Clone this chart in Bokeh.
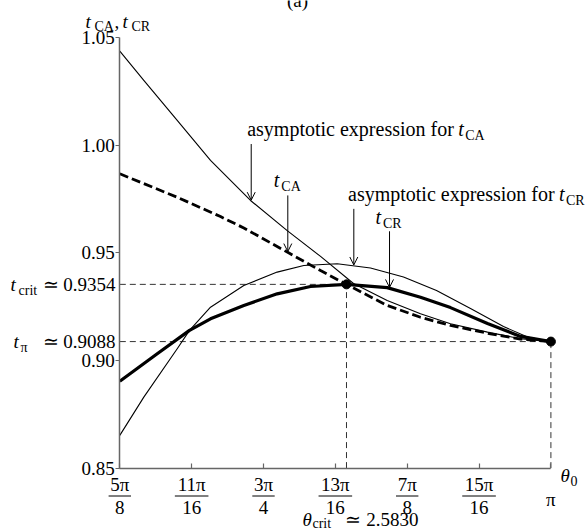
import numpy as np
from bokeh.plotting import figure
from bokeh.models import Range1d, LinearAxis, FixedTicker, Arrow, OpenHead, PrintfTickFormatter, CustomJSTickFormatter
from bokeh.core.properties import value
from bokeh.embed import file_html
from bokeh.resources import INLINE

# ---------------- data ----------------
theta_ca_asym = [1.9635, 2.0291, 2.1204, 2.2114, 2.3207, 2.4210, 2.5121, 2.6021,
                 2.6942, 2.7852, 2.8672, 2.9683, 3.0585, 3.1416]
t_ca_asym = [1.0438, 1.0302, 1.0116, 0.9930, 0.9744, 0.9604, 0.9484, 0.9358,
             0.9279, 0.9217, 0.9171, 0.9132, 0.9101, 0.9088]

theta_ca = [1.9635, 2.1204, 2.2387, 2.3024, 2.4210, 2.5121, 2.5830, 2.6942,
            2.7852, 2.8672, 2.9765, 3.0585, 3.1416]
t_ca = [0.9868, 0.9759, 0.9669, 0.9616, 0.9504, 0.9418, 0.9354, 0.9256,
        0.9201, 0.9163, 0.9124, 0.9100, 0.9088]

theta_cr = [1.9635, 2.0611, 2.1540, 2.2114, 2.3024, 2.3936, 2.4846, 2.5830,
            2.6942, 2.7852, 2.8672, 2.9683, 3.0585, 3.1416]
t_cr = [0.8904, 0.9026, 0.9140, 0.9194, 0.9256, 0.9310, 0.9344, 0.9354,
        0.9339, 0.9294, 0.9246, 0.9172, 0.9112, 0.9088]

theta_cr_asym = [1.9635, 2.0291, 2.1204, 2.1540, 2.2114, 2.3024, 2.3936, 2.4663,
                 2.5576, 2.6486, 2.7388, 2.8290, 2.9219, 3.0121, 3.0777, 3.1416]
t_cr_asym = [0.8652, 0.8830, 0.9055, 0.9140, 0.9248, 0.9349, 0.9411, 0.9442,
             0.9450, 0.9430, 0.9388, 0.9325, 0.9242, 0.9158, 0.9109, 0.9088]

theta_crit = 2.5830
t_crit = 0.9354
t_pi = 0.9088

x_ticks = [1.963495, 2.159845, 2.356194, 2.552544, 2.748894, 2.945243, 3.141593]
x_tick_num = ["5π", "11π", "3π", "13π", "7π", "15π", "π"]
x_tick_den = ["8", "16", "4", "16", "8", "16", ""]
y_ticks = [0.85, 0.90, 0.95, 1.00, 1.05]
x_lo, x_hi = x_ticks[0], x_ticks[-1]
y_lo, y_hi = y_ticks[0], y_ticks[-1]

# ---------------- layout calibration ----------------
W, H = 585, 531
AXL, AXR = 119.3, 550.4      # canvas px of x_lo, x_hi
AYT, AYB = 37.3, 467.6       # canvas px of y_hi, y_lo
sx = (AXR - AXL) / (x_hi - x_lo)
sy = (AYB - AYT) / (y_hi - y_lo)
x_start = x_lo - AXL / sx
x_end = x_start + W / sx
y_end = y_hi + AYT / sy
y_start = y_end - H / sy

def X(cx):
    return x_start + cx / sx

def Y(cy):
    return y_end - cy / sy

def cx_of(th):
    return (th - x_start) * sx

def cy_of(t):
    return (y_end - t) * sy

FONT = value("Liberation Serif")
MAIN = 19
ANN = 20
SUB = 14

p = figure(width=W, height=H, x_range=Range1d(x_start, x_end), y_range=Range1d(y_start, y_end),
           x_axis_type=None, y_axis_type=None, output_backend="svg", toolbar_location=None,
           min_border=0)
p.outline_line_color = None
p.background_fill_color = "white"
p.border_fill_color = "white"

AX_COLOR = "#666666"
xaxis = LinearAxis(fixed_location=y_lo, bounds=(x_lo, x_hi), ticker=FixedTicker(ticks=x_ticks),
                   formatter=CustomJSTickFormatter(code="return ''"))
xaxis.major_tick_in = 5
xaxis.major_tick_out = 0
xaxis.minor_tick_line_color = None
xaxis.axis_line_color = AX_COLOR
xaxis.axis_line_width = 1.5
xaxis.major_tick_line_color = AX_COLOR
xaxis.major_tick_line_width = 1.2
p.add_layout(xaxis, "below")

yaxis = LinearAxis(fixed_location=x_lo, bounds=(y_lo, y_hi), ticker=FixedTicker(ticks=y_ticks),
                   formatter=PrintfTickFormatter(format="%.2f"))
yaxis.major_tick_in = 0
yaxis.major_tick_out = 4
yaxis.minor_tick_line_color = None
yaxis.axis_line_color = AX_COLOR
yaxis.axis_line_width = 1.5
yaxis.major_tick_line_color = AX_COLOR
yaxis.major_tick_line_width = 1.2
yaxis.major_label_standoff = 1
yaxis.major_label_text_font = "Liberation Serif"
yaxis.major_label_text_font_size = f"{MAIN}px"
yaxis.major_label_text_color = "black"
p.add_layout(yaxis, "left")


def txt(cx, cy, s, size=MAIN, italic=False, align="left", x=None, y=None):
    """cy is the vertical middle of the text line (canvas px)."""
    p.text(x=[X(cx) if x is None else x], y=[Y(cy) if y is None else y], text=[s],
           text_font=FONT, text_font_size=f"{size}px",
           text_font_style="italic" if italic else "normal",
           text_align=align, text_baseline="middle", text_color="black")

def mid(baseline, size):
    return baseline - 0.34 * size

# ---------------- reference dashed lines ----------------
REF = dict(line_color="#333333", line_width=1, line_dash="6 4")
p.line([x_lo, theta_crit], [t_crit, t_crit], **REF)
p.line([theta_crit, theta_crit], [y_lo, t_crit], **REF)
p.line([x_lo, x_hi], [t_pi, t_pi], **REF)
p.line([x_hi, x_hi], [y_lo, t_pi], **REF)

# ---------------- curves ----------------
p.line(theta_ca_asym, t_ca_asym, line_color="black", line_width=1.1, line_join="round")
p.line(theta_cr_asym, t_cr_asym, line_color="black", line_width=1.1, line_join="round")
p.line(theta_ca, t_ca, line_color="black", line_width=2.8, line_dash="9 4")
p.line(theta_cr, t_cr, line_color="black", line_width=3.2, line_join="round")
p.scatter([theta_crit, x_hi], [t_crit, t_pi], size=9, color="black")

# ---------------- arrows and their labels ----------------
ARROW_LEN = 57 / sy
arrow_specs = [
    (2.3226, theta_ca_asym, t_ca_asym),
    (2.4226, theta_ca, t_ca),
    (2.6030, theta_cr_asym, t_cr_asym),
    (2.7006, theta_cr, t_cr),
]
tails = []
for th, xs, ys in arrow_specs:
    tip = float(np.interp(th, xs, ys))
    tail = tip + ARROW_LEN
    p.add_layout(Arrow(end=OpenHead(size=8, line_width=1, line_color="black"),
                       x_start=th, y_start=tail, x_end=th, y_end=tip + 0.0004,
                       line_color="black", line_width=1))
    tails.append((cx_of(th), cy_of(tail)))

def asym_label(left, base, sub):
    txt(left, mid(base, ANN), "asymptotic expression for", size=ANN)
    txt(left + 211, mid(base, ANN), "t", size=ANN, italic=True)
    txt(left + 218, mid(base + 4, SUB), sub, size=SUB)

def t_label(left, base, sub):
    txt(left, mid(base, ANN), "t", size=ANN, italic=True)
    txt(left + 7.5, mid(base + 4, SUB), sub, size=SUB)

ax, ay = tails[0]
asym_label(ax - 4, ay - 8, "CA")
ax, ay = tails[1]
t_label(ax - 14, ay - 8.5, "CA")
ax, ay = tails[2]
asym_label(ax - 5.8, ay - 8, "CR")
ax, ay = tails[3]
t_label(ax - 14, ay - 7.5, "CR")

# ---------------- y axis extra labels ----------------
cyc = cy_of(t_crit)
txt(AXL - 4.3, cyc, "≃ 0.9354", align="right")
txt(10, cyc, "t", italic=True)
txt(18, mid(cyc + 6.5 + 4, SUB), "crit", size=SUB)
cyp = cy_of(t_pi)
txt(AXL - 4.3, cyp, "≃ 0.9088", align="right")
txt(13, cyp, "t", italic=True)
txt(20, mid(cyp + 6.5 + 4, SUB), "π", size=SUB)

# y axis title
txt(85, mid(27, MAIN), "t", italic=True)
txt(94, mid(31, SUB), "CA", size=SUB)
txt(114, mid(27, MAIN), ",")
txt(122, mid(27, MAIN), "t", italic=True)
txt(131, mid(31, SUB), "CR", size=SUB)

# panel tag (cut by the top edge, as in the reference)
txt(297, mid(6, MAIN), "(a)", align="center")

# ---------------- x tick fraction labels ----------------
NUM_MID, BAR_Y, DEN_MID = 484, 495.5, 507
for v, num, den in zip(x_ticks, x_tick_num, x_tick_den):
    if den:
        txt(0, NUM_MID, num, align="center", x=v)
        hw = 5.6 * len(num) / sx
        p.segment(x0=[v - hw], y0=[Y(BAR_Y)], x1=[v + hw], y1=[Y(BAR_Y)], line_color="black", line_width=1)
        txt(0, DEN_MID, den, align="center", x=v)
    else:
        txt(0, 499, num, align="center", x=v)

# x axis title theta_0
txt(AXR + 9.5, mid(481, MAIN), "θ", italic=True)
txt(AXR + 19.5, mid(485, SUB), "0", size=SUB)

# theta_crit label under the axis
cxc = cx_of(theta_crit)
txt(cxc - 44, mid(525, MAIN), "θ", italic=True)
txt(cxc - 34, mid(528, SUB), "crit", size=SUB)
txt(cxc - 1, mid(525, MAIN), "≃ 2.5830")

open("out.html", "w").write(file_html(p, INLINE))
